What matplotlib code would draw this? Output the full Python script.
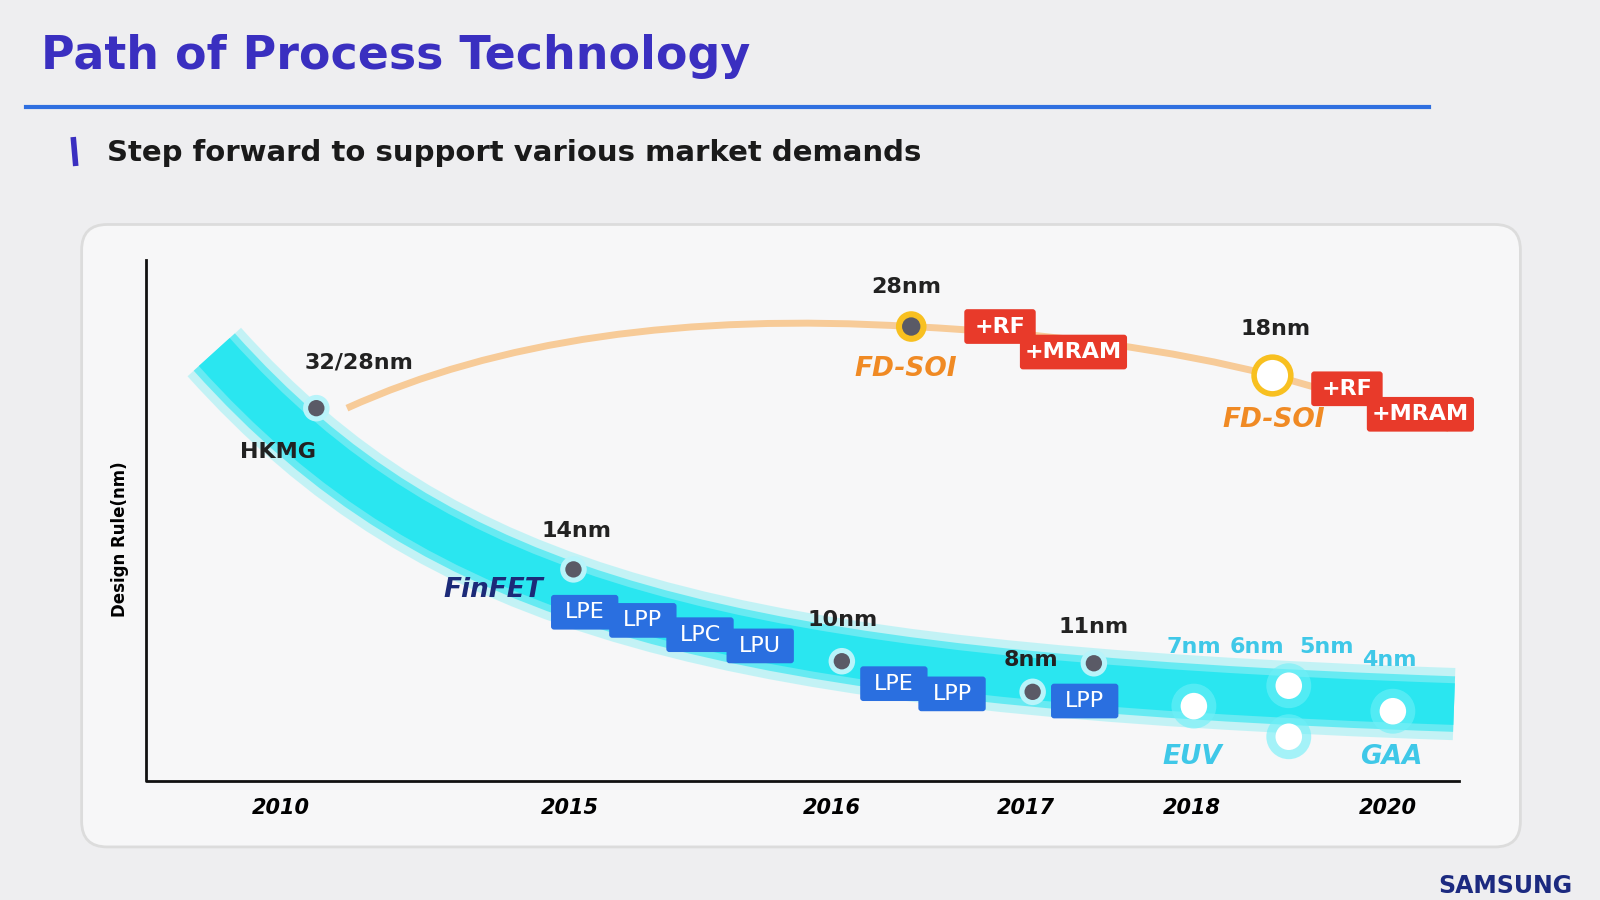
import matplotlib.pyplot as plt
from matplotlib.patches import FancyBboxPatch, PathPatch, Circle
from matplotlib.path import Path

# nodes on the chart (label, x, y in picture pixels)
years = ['2010', '2015', '2016', '2017', '2018', '2020']
year_x = [275, 558, 815, 1005, 1168, 1360]

gray_dots = [(310, 400), (562, 558), (825, 648), (1012, 678), (1072, 650)]
white_dots = [(1170, 692), (1263, 672), (1263, 722), (1365, 697)]

node_labels = [('32/28nm', 352, 355, '#222222'), ('HKMG', 272, 443, '#222222'),
               ('14nm', 565, 520, '#222222'), ('10nm', 826, 608, '#222222'),
               ('8nm', 1010, 647, '#222222'), ('11nm', 1072, 614, '#222222'),
               ('7nm', 1170, 634, '#3fc8e8'), ('6nm', 1232, 634, '#3fc8e8'),
               ('5nm', 1300, 634, '#3fc8e8'), ('4nm', 1362, 647, '#3fc8e8'),
               ('28nm', 888, 281, '#222222'), ('18nm', 1250, 322, '#222222')]
italic_labels = [('FinFET', 483, 578, '#1c2a78'), ('EUV', 1168, 742, '#3fc8e8'),
                 ('GAA', 1363, 742, '#3fc8e8'), ('FD-SOI', 888, 362, '#f08a24'),
                 ('FD-SOI', 1248, 412, '#f08a24')]
blue_boxes = [('LPE', 573, 600), ('LPP', 630, 608), ('LPC', 686, 622), ('LPU', 745, 633),
              ('LPE', 876, 670), ('LPP', 933, 680), ('LPP', 1063, 687)]
red_boxes = [('+RF', 980, 320, 70), ('+MRAM', 1052, 345, 105),
             ('+RF', 1320, 381, 70), ('+MRAM', 1392, 406, 105)]

fig = plt.figure(figsize=(16, 9), dpi=100)
ax = fig.add_axes([0, 0, 1, 1])
ax.set_xlim(0, 1568)
ax.set_ylim(882, 0)
ax.axis('off')
fig.patch.set_facecolor('#eeeef0')

ax.text(40, 55, 'Path of Process Technology', fontsize=33, fontweight='bold',
        color='#3a2fc0', va='center')
ax.plot([25, 1400], [105, 105], color='#2f6fe0', lw=3)
ax.plot([72, 74], [137, 160], color='#3a2fc0', lw=4)
ax.text(105, 150, 'Step forward to support various market demands', fontsize=21,
        fontweight='bold', color='#1a1a1a', va='center')

ax.add_patch(FancyBboxPatch((80, 220), 1410, 610, boxstyle='round,pad=0,rounding_size=25',
                            fc='#f7f7f8', ec='#dcdcdc', lw=2))
ax.plot([143, 143, 1430], [255, 765, 765], color='#111111', lw=2)
ax.text(118, 528, 'Design Rule(nm)', rotation=90, fontsize=12, fontweight='bold',
        ha='center', va='center')
for y, x in zip(years, year_x):
    ax.text(x, 792, y, fontsize=15, fontweight='bold', style='italic', ha='center', va='center')

# cyan FinFET band
band = Path([(210, 345), (430, 590), (700, 665), (1425, 690)],
            [Path.MOVETO, Path.CURVE4, Path.CURVE4, Path.CURVE4])
for lw, a in [(52, 0.25), (40, 0.6), (30, 1.0)]:
    ax.add_patch(PathPatch(band, fc='none', ec='#2ae6f0', lw=lw, alpha=a, capstyle='butt'))

# FD-SOI curve
soi = Path([(340, 400), (560, 300), (893, 320), (1100, 330), (1247, 368), (1330, 390), (1420, 420)],
           [Path.MOVETO, Path.CURVE3, Path.CURVE3, Path.CURVE3, Path.CURVE3, Path.CURVE3, Path.CURVE3])
ax.add_patch(PathPatch(soi, fc='none', ec='#f8c080', lw=5, alpha=0.8))

for x, y in gray_dots:
    ax.add_patch(Circle((x, y), 13, fc='#b8f4fa', ec='none'))
    ax.add_patch(Circle((x, y), 8, fc='#5a5a66', ec='none'))
for x, y in white_dots:
    ax.add_patch(Circle((x, y), 22, fc='#6ef0f8', ec='none', alpha=0.6))
    ax.add_patch(Circle((x, y), 13, fc='white', ec='none'))
ax.add_patch(Circle((893, 320), 15, fc='#f8c020', ec='none'))
ax.add_patch(Circle((893, 320), 9, fc='#5a5a66', ec='none'))
ax.add_patch(Circle((1247, 368), 18, fc='white', ec='#f8c020', lw=4))

for t, x, y, c in node_labels:
    ax.text(x, y, t, fontsize=16, fontweight='bold', color=c, ha='center', va='center')
for t, x, y, c in italic_labels:
    ax.text(x, y, t, fontsize=19, style='italic', fontweight='bold', color=c, ha='center', va='center')

for t, x, y in blue_boxes:
    ax.add_patch(FancyBboxPatch((x - 33, y - 17), 66, 34, boxstyle='round,pad=0,rounding_size=3',
                                fc='#2a6fe0', ec='none'))
    ax.text(x, y, t, fontsize=16, color='white', ha='center', va='center')
for t, x, y, w in red_boxes:
    ax.add_patch(FancyBboxPatch((x - w / 2, y - 17), w, 34, boxstyle='round,pad=0,rounding_size=3',
                                fc='#e83a2a', ec='none'))
    ax.text(x, y, t, fontsize=16, fontweight='bold', color='white', ha='center', va='center')

ax.text(1475, 868, 'SAMSUNG', fontsize=17, fontweight='bold', color='#1c2a80', ha='center', va='center')

fig.savefig('out.png', dpi=100, facecolor=fig.get_facecolor())
